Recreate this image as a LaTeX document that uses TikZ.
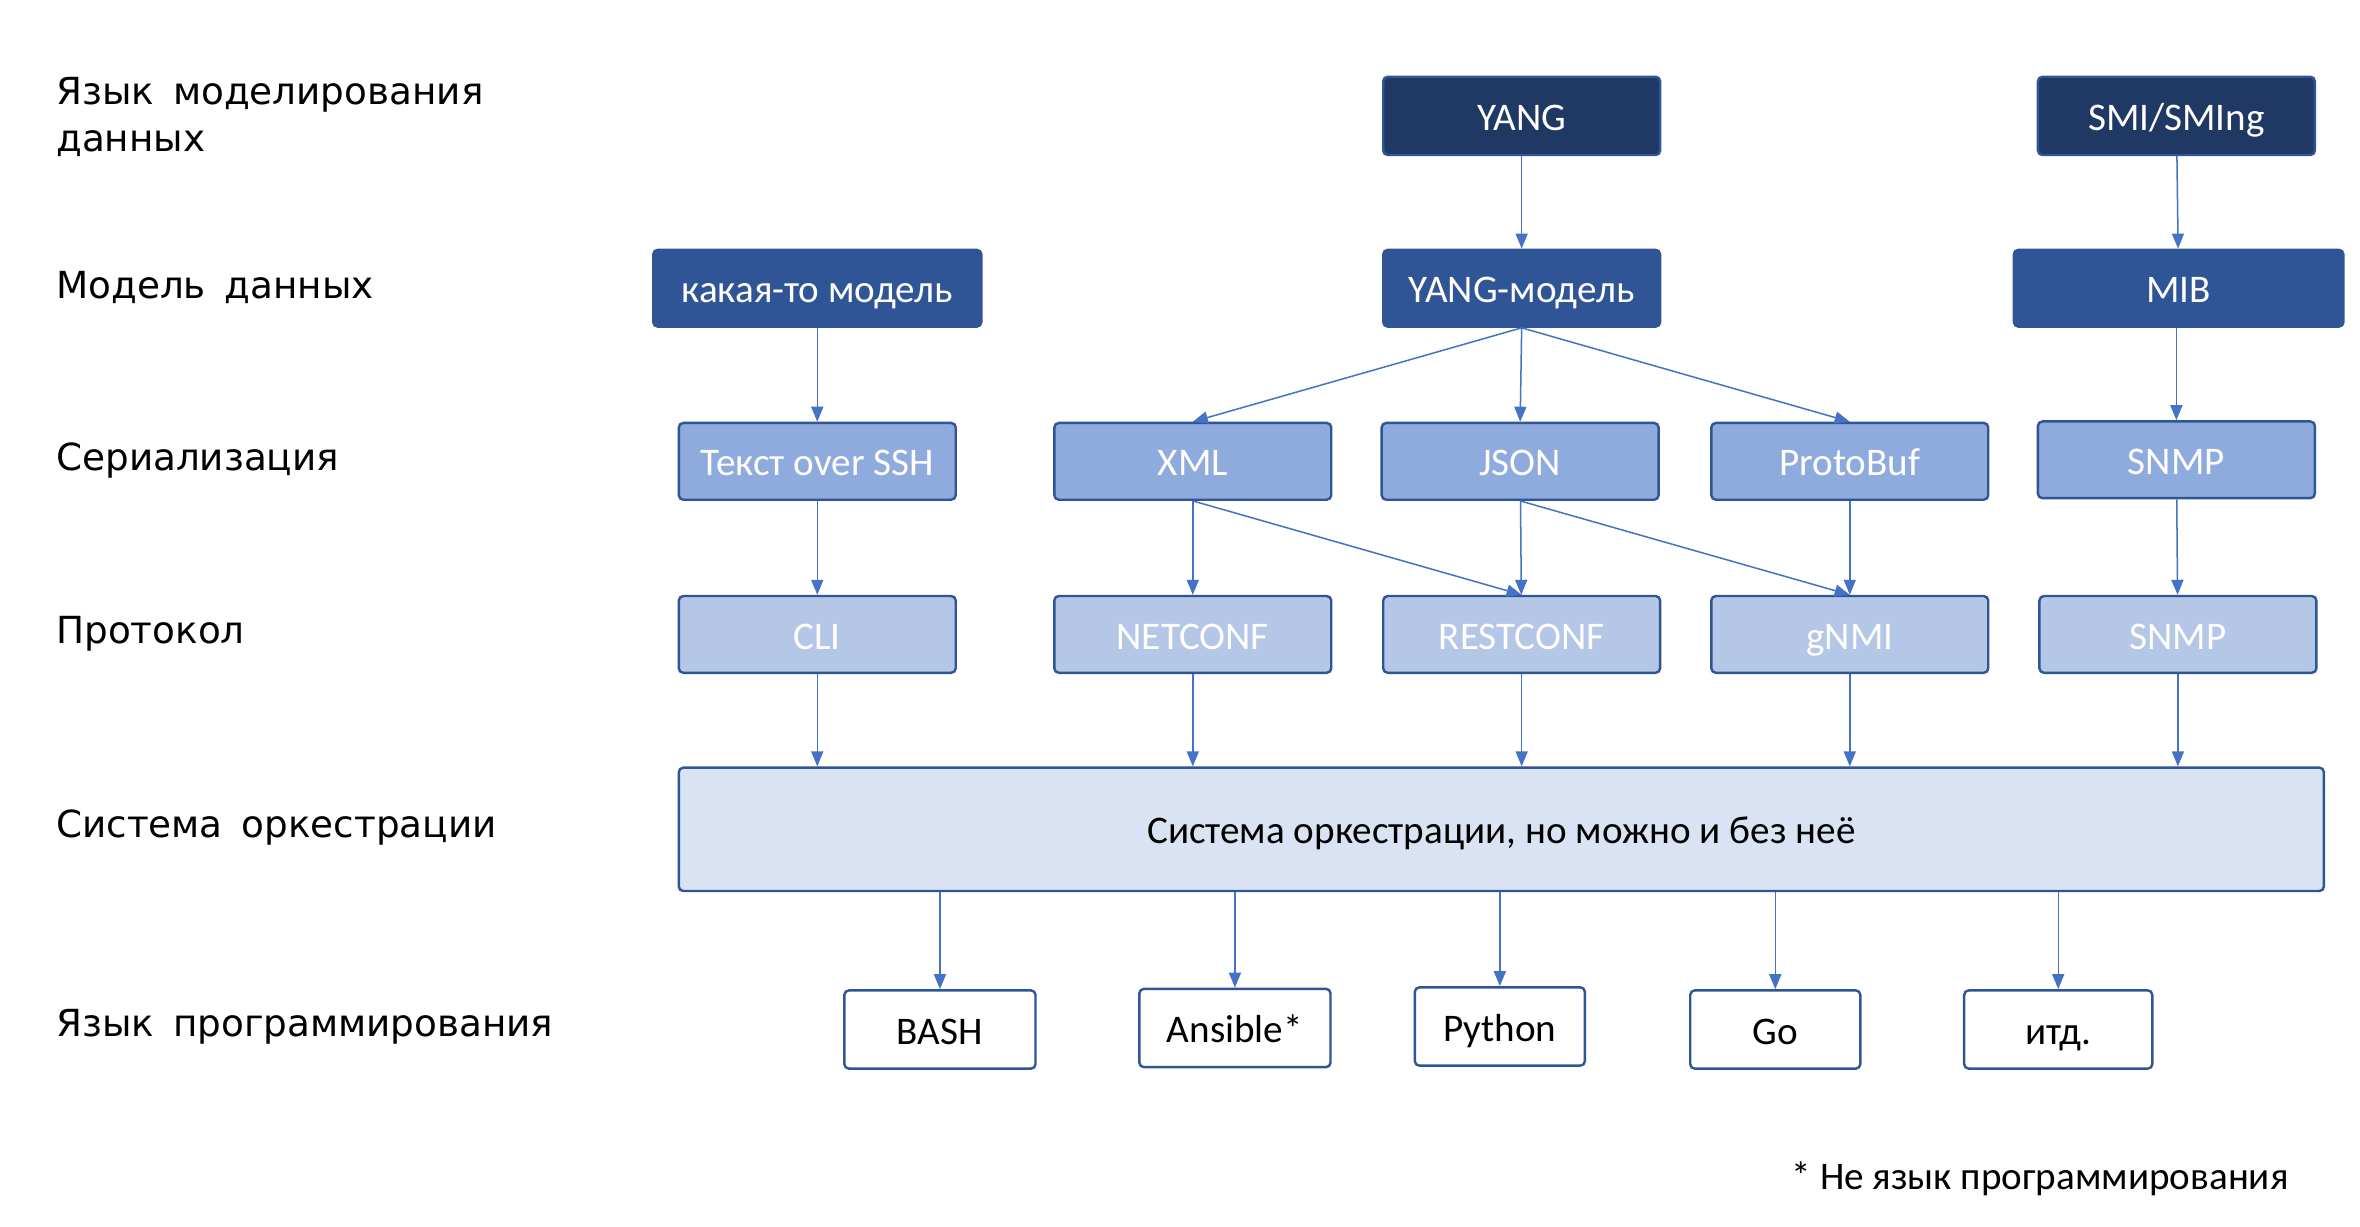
\documentclass[tikz,border=0pt]{standalone}
\usepackage{fontspec}
\setmainfont{Carlito}
\newfontfamily\lblfont[WordSpace=1.6]{DejaVu Sans}
\usetikzlibrary{arrows.meta}
\definecolor{cnavy}{HTML}{203864}
\definecolor{cmid}{HTML}{2F5597}
\definecolor{cthree}{HTML}{8FAADC}
\definecolor{cfour}{HTML}{B4C7E7}
\definecolor{cfive}{HTML}{DAE3F3}
\definecolor{carr}{HTML}{4472C4}
\begin{document}
\begin{tikzpicture}[x=0.5pt,y=-0.5pt,
  base/.style={rectangle, rounded corners=1.5pt, draw=cmid, line width=0.8pt, inner sep=0pt,
    font=\fontsize{13}{15}\selectfont, minimum height=26pt, text height=9.7pt, text depth=0pt},
  lvone/.style={base, fill=cnavy, text=white},
  lvtwo/.style={base, fill=cmid, text=white},
  lvthree/.style={base, fill=cthree, text=white, minimum width=92pt, minimum height=25.5pt},
  lvfour/.style={base, fill=cfour, text=white, minimum width=92pt, minimum height=25.5pt},
  lvfive/.style={base, fill=cfive, text=black},
  lvsix/.style={base, fill=white, text=black},
  lbl/.style={anchor=west, inner sep=0pt, align=left, font=\lblfont\fontsize{12.4}{15.5}\selectfont},
  arr/.style={draw=carr, line width=0.5pt, -{Triangle[length=5pt,width=4pt]}}
]
\useasboundingbox (0,0) rectangle (1568,815);

% left labels
\node[lbl] (l1) at (37,77.5) {Язык моделирования\\данных};
\node[lbl] (l2) at (37,191) {Модель данных};
\node[lbl] (l3) at (37,306) {Сериализация};
\node[lbl] (l4) at (37,421) {Протокол};
\node[lbl] (l5) at (37,550) {Система оркестрации};
\node[lbl] (l6) at (37,682) {Язык программирования};

% row 1
\node[lvone, minimum width=92pt] (yang) at (1011,77) {YANG};
\node[lvone, minimum width=92pt] (smi) at (1446,77) {SMI/SMIng};
% row 2
\node[lvtwo, minimum width=109pt, minimum height=25.5pt] (kak) at (543,191.5) {какая-то модель};
\node[lvtwo, minimum width=92pt, minimum height=25.5pt] (ym) at (1011,191.5) {YANG-модель};
\node[lvtwo, minimum width=109.5pt, minimum height=25.5pt] (mib) at (1447.5,191.5) {MIB};
% row 3
\node[lvthree] (ssh) at (543,306.5) {Текст over SSH};
\node[lvthree] (xml) at (792.5,306.5) {XML};
\node[lvthree] (json) at (1010,306.5) {JSON};
\node[lvthree] (pb) at (1229,306.5) {ProtoBuf};
\node[lvthree] (snmpa) at (1446,305.5) {SNMP};
% row 4
\node[lvfour] (cli) at (543,421.5) {CLI};
\node[lvfour] (netconf) at (792.5,421.5) {NETCONF};
\node[lvfour] (restconf) at (1011,421.5) {RESTCONF};
\node[lvfour] (gnmi) at (1229,421.5) {gNMI};
\node[lvfour] (snmpb) at (1447,421.5) {SNMP};
% row 5
\node[lvfive, minimum width=546.5pt, minimum height=41pt] (orch) at (997.5,551) {Система оркестрации, но можно и без неё};
% row 6
\node[lvsix, minimum width=63.5pt] (bash) at (624.5,684) {BASH};
\node[lvsix, minimum width=63.5pt] (ansible) at (820.5,683) {Ansible*};
\node[lvsix, minimum width=56.5pt] (python) at (996.5,682) {Python};
\node[lvsix, minimum width=56.5pt] (go) at (1179.5,684) {Go};
\node[lvsix, minimum width=62.5pt] (itd) at (1367.5,684) {итд.};

% footnote
\node[anchor=east, inner sep=0pt, font=\fontsize{13}{15}\selectfont] (note) at (1521,783) {* Не язык программирования};

% arrows
\draw[arr] (yang) -- (ym);
\draw[arr] (smi) -- (mib);
\draw[arr] (kak.south -| ssh) -- (ssh);
\draw[arr] (ym.south) -- (xml.north);
\draw[arr] (ym.south) -- (json.north);
\draw[arr] (ym.south) -- (pb.north);
\draw[arr] (mib.south -| snmpa) -- (snmpa);
\draw[arr] (ssh) -- (cli);
\draw[arr] (xml) -- (netconf);
\draw[arr] (xml.south) -- (restconf.north);
\draw[arr] (json) -- (restconf);
\draw[arr] (json.south) -- (gnmi.north);
\draw[arr] (pb) -- (gnmi);
\draw[arr] (snmpa) -- (snmpb);

\draw[arr] (cli.south) -- (cli.south |- orch.north);
\draw[arr] (netconf.south) -- (netconf.south |- orch.north);
\draw[arr] (restconf.south) -- (restconf.south |- orch.north);
\draw[arr] (gnmi.south) -- (gnmi.south |- orch.north);
\draw[arr] (snmpb.south) -- (snmpb.south |- orch.north);

\draw[arr] (orch.south -| bash) -- (bash);
\draw[arr] (orch.south -| ansible) -- (ansible);
\draw[arr] (orch.south -| python) -- (python);
\draw[arr] (orch.south -| go) -- (go);
\draw[arr] (orch.south -| itd) -- (itd);
\end{tikzpicture}
\end{document}
